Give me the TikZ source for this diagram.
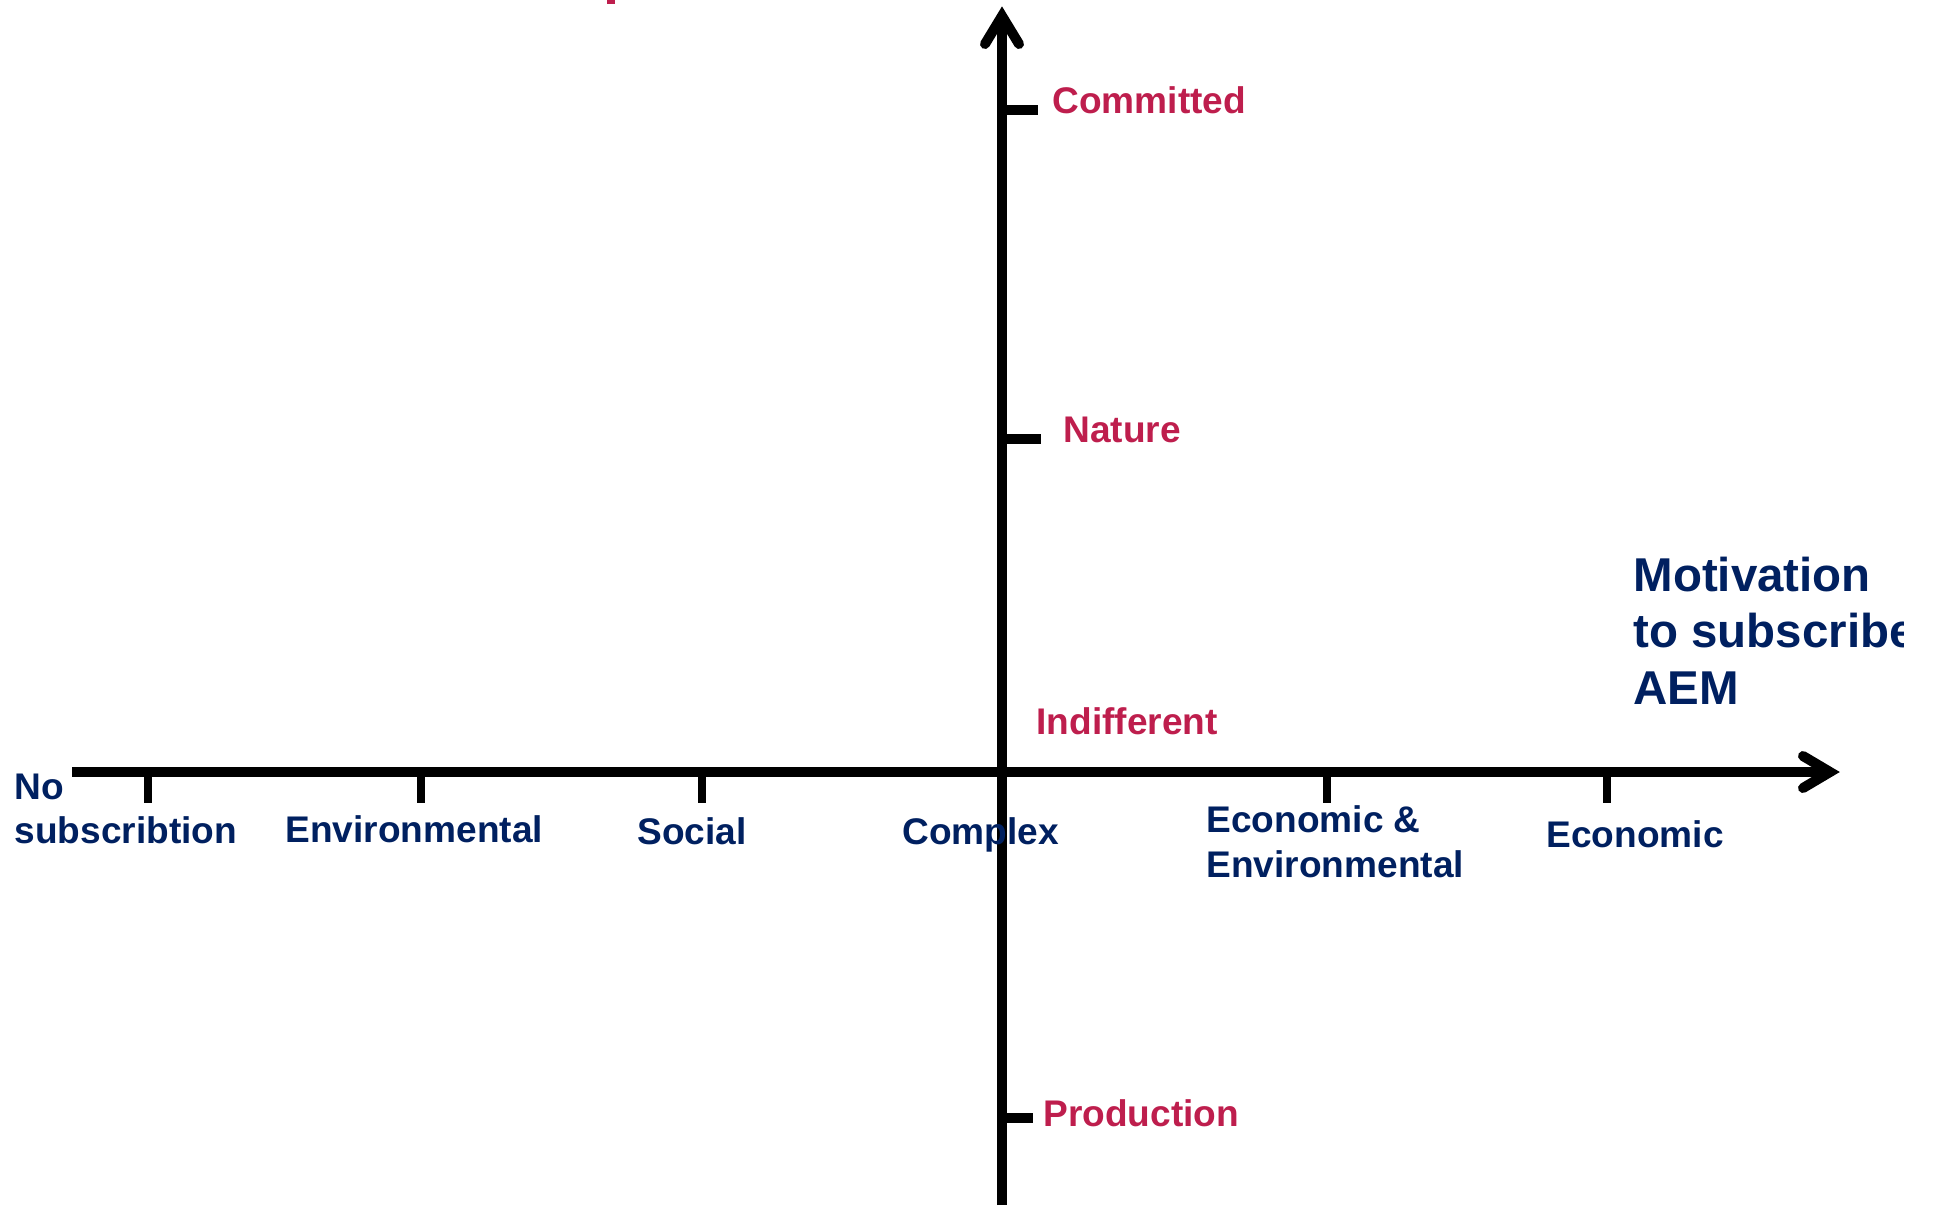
\documentclass[tikz,border=0pt]{standalone}
\usepackage{fontspec}
\setmainfont{Liberation Sans}
\definecolor{attred}{HTML}{BE1E4D}
\definecolor{motblue}{HTML}{002060}
\begin{document}
\begin{tikzpicture}[x=0.375pt,y=-0.375pt,
  axisline/.style={line width=3.75pt, black},
  hdash/.style={line width=3pt, black},
  vdash/.style={line width=3.75pt, black},
  headline/.style={line width=3.75pt, black, line cap=round, line join=miter},
  redlab/.style={font=\fontsize{13.9}{16}\selectfont\bfseries, text=attred, inner sep=0pt, anchor=base west},
  bluelab/.style={font=\fontsize{13.9}{16}\selectfont\bfseries, text=motblue, inner sep=0pt, anchor=base west},
  titlelab/.style={font=\fontsize{17.8}{21}\selectfont\bfseries, text=motblue, inner sep=0pt, anchor=base west}]
\useasboundingbox (0,0) rectangle (1939,1205);
% cut-off remnant of a text above the picture
\fill[attred] (607,0) rectangle (615,4);
% axes
\coordinate (hstart) at (72,772);
\coordinate (htip) at (1830,772);
\coordinate (harmA) at (1803,756);
\coordinate (harmB) at (1803,788);
\coordinate (vbot) at (1002,1205);
\coordinate (vtip) at (1002,16);
\coordinate (varmA) at (985,44);
\coordinate (varmB) at (1019,44);
\draw[axisline] (hstart) -- (htip);
\draw[axisline] (vbot) -- (vtip);
\draw[headline] (harmA) -- (htip) -- (harmB);
\draw[headline] (varmA) -- (vtip) -- (varmB);
% ticks on horizontal axis
\foreach \tx/\tn in {148/ta,421/tb,702/tc,1327/td,1607/te}{
  \coordinate (\tn1) at (\tx,776);
  \coordinate (\tn2) at (\tx,803);
  \draw[hdash] (\tn1) -- (\tn2);
}
% ticks on vertical axis
\coordinate (c1) at (1002,110); \coordinate (c2) at (1038,110);
\coordinate (n1) at (1002,439); \coordinate (n2) at (1041,439);
\coordinate (p1) at (1002,1118); \coordinate (p2) at (1033,1118);
\draw[vdash] (c1) -- (c2);
\draw[vdash] (n1) -- (n2);
\draw[vdash] (p1) -- (p2);
% vertical axis labels
\node[redlab] (committed) at (1052,113) {Committed};
\node[redlab] (nature) at (1063,442) {Nature};
\node[redlab] (indiff) at (1036,734) {Indifferent};
\node[redlab] (production) at (1043,1126) {Production};
% horizontal axis labels
\node[bluelab] (nosub1) at (14,799) {No};
\node[bluelab] (nosub2) at (14,843) {subscribtion};
\node[bluelab] (env) at (285,842) {Environmental};
\node[bluelab] (social) at (637,844) {Social};
\node[bluelab] (complex) at (902,844) {Complex};
\node[bluelab] (ecoenv1) at (1206,832) {Economic \&};
\node[bluelab] (ecoenv2) at (1206,877) {Environmental};
\node[bluelab] (eco) at (1546,847) {Economic};
% axis title, clipped at the right
\begin{scope}
\clip (0,0) rectangle (1903,1205);
\node[titlelab] (mot1) at (1633,591) {Motivation};
\node[titlelab] (mot2) at (1633,647) {to subscribe};
\node[titlelab] (mot3) at (1633,704) {AEM};
\end{scope}
\end{tikzpicture}
\end{document}
